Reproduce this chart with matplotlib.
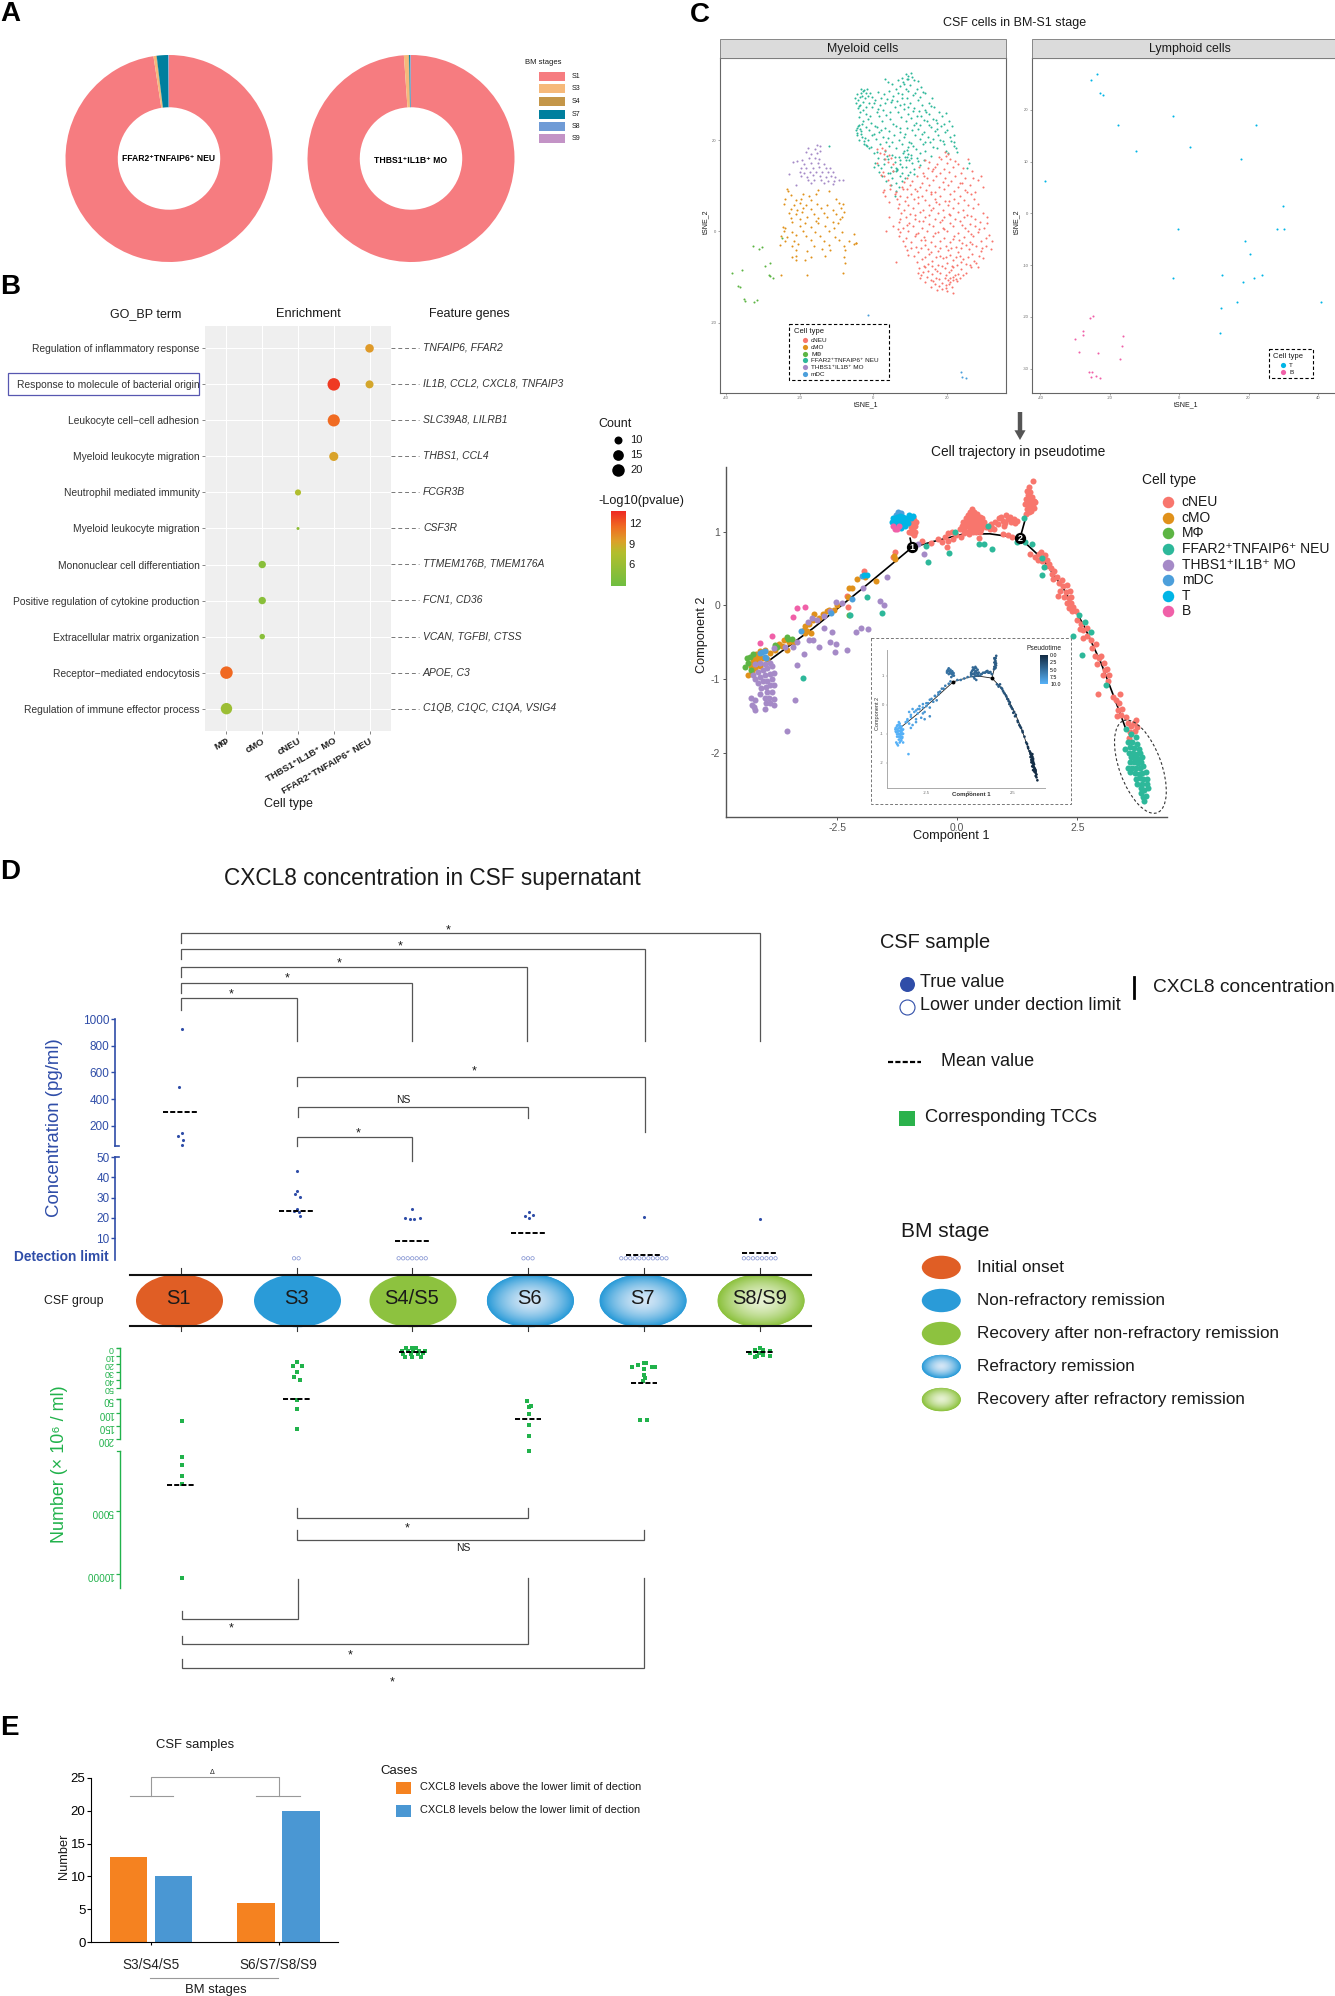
import numpy as np
import matplotlib
matplotlib.use("Agg")
import matplotlib.pyplot as plt
from matplotlib.patches import Ellipse, Rectangle
from matplotlib.colors import LinearSegmentedColormap
from matplotlib.transforms import ScaledTranslation

plt.rcParams['font.family'] = ['Liberation Sans', 'DejaVu Sans']
plt.rcParams['axes.unicode_minus'] = False
W, H = 1335, 1996
fig = plt.figure(figsize=(W/100, H/100), dpi=100)

def add_ax(x0, y0, x1, y1, **kw):
    return fig.add_axes([x0/W, 1-y1/H, (x1-x0)/W, (y1-y0)/H], **kw)

ov = fig.add_axes([0, 0, 1, 1], zorder=6)
ov.set_xlim(0, W); ov.set_ylim(H, 0); ov.axis('off')

def T(x, y, s, size=8, ha='left', va='center', color='#1a1a1a', **kw):
    return ov.text(x, y, s, fontsize=size, ha=ha, va=va, color=color, **kw)

for letter, lx, ly in [('A', 0, 14), ('B', 0, 287), ('C', 690, 15), ('D', 0, 872), ('E', 0, 1728)]:
    T(lx, ly, letter, size=20, weight='bold', color='black')

# ---------- Panel A ----------
stages = ['S1', 'S3', 'S4', 'S7', 'S8', 'S9']
stage_colors = ['#F67C80', '#F6B97A', '#C49648', '#007F9E', '#6F9BD6', '#C393C6']
neu_share = [97.6, 0.4, 0.1, 1.8, 0.05, 0.05]
mo_share = [98.9, 0.7, 0.1, 0.2, 0.05, 0.05]
for share, cx, name, ty in [(neu_share, 169, 'FFAR2⁺TNFAIP6⁺ NEU', 158), (mo_share, 411, 'THBS1⁺IL1B⁺ MO', 160)]:
    ax = add_ax(cx-103.5, 55, cx+103.5, 262)
    ax.pie(share, colors=stage_colors, startangle=90, counterclock=False, radius=1,
           wedgeprops=dict(width=0.505, linewidth=0))
    ax.set_xlim(-1, 1); ax.set_ylim(-1, 1)
    T(cx, ty, name, size=6.2, ha='center', weight='bold', color='black')
T(525, 62, 'BM stages', size=5.5)
for s, c, yy in zip(stages, stage_colors, [76, 88, 101, 114, 126, 138]):
    ov.add_patch(Rectangle((539, yy-4.5), 26, 9, fc=c, ec='none'))
    T(572, yy, s, size=5)

# ---------- Panel B ----------
go_terms = ['Regulation of inflammatory response', 'Response to molecule of bacterial origin',
            'Leukocyte cell−cell adhesion', 'Myeloid leukocyte migration', 'Neutrophil mediated immunity',
            'Myeloid leukocyte migration', 'Mononuclear cell differentiation',
            'Positive regulation of cytokine production', 'Extracellular matrix organization',
            'Receptor−mediated endocytosis', 'Regulation of immune effector process']
genes = ['TNFAIP6, FFAR2', 'IL1B, CCL2, CXCL8, TNFAIP3', 'SLC39A8, LILRB1', 'THBS1, CCL4', 'FCGR3B', 'CSF3R',
         'TTMEM176B, TMEM176A', 'FCN1, CD36', 'VCAN, TGFBI, CTSS', 'APOE, C3', 'C1QB, C1QC, C1QA, VSIG4']
cell_types_b = ['MΦ', 'cMO', 'cNEU', 'THBS1⁺IL1B⁺ MO', 'FFAR2⁺TNFAIP6⁺ NEU']
dot_col = [5, 4, 5, 4, 4, 3, 3, 2, 2, 2, 1, 1]
dot_row = [1, 2, 2, 3, 4, 5, 6, 7, 8, 9, 10, 11]
dot_count = [11, 20, 10, 19, 12, 7, 2, 9, 9, 6, 20, 17]
dot_logp = [9.6, 13.2, 9.0, 11.5, 9.2, 7.5, 5.0, 4.6, 4.6, 4.6, 11.6, 6.0]
go_cmap = LinearSegmentedColormap.from_list('go', [(0, '#70BF41'), (.45, '#B4BE2D'), (.6, '#DDA02A'), (.8, '#F06A22'), (1, '#EE2A24')])
axb = add_ax(205, 326, 391, 731)
axb.set_facecolor('#EFEFEF')
for sp in axb.spines.values():
    sp.set_visible(False)
axb.set_xlim(0.4, 5.6); axb.set_ylim(11.62, 0.38)
axb.grid(color='white', lw=0.8); axb.set_axisbelow(True)
axb.set_xticks(range(1, 6)); axb.set_yticks(range(1, 12))
axb.set_yticklabels(go_terms, fontsize=7.4, color='#333333')
axb.set_xticklabels(cell_types_b, fontsize=6.8, weight='bold', rotation=30, ha='right', rotation_mode='anchor', color='#222222')
for lab, off, dn in zip(axb.get_xticklabels(), [5, 11, 17, 18, 25], [1, 3, 3, 4, 5]):
    lab.set_transform(lab.get_transform() + ScaledTranslation(off/100, -dn/100, fig.dpi_scale_trans))
axb.tick_params(length=2, width=0.5, color='#555555', pad=2)
size_px = np.interp(dot_count, [2, 10, 15, 20], [3, 8, 10.7, 12.5])
axb.scatter(dot_col, dot_row, s=(size_px*.72)**2, c=dot_logp, cmap=go_cmap, vmin=2.78, vmax=13.76, lw=0, zorder=3)
T(146, 314, 'GO_BP term', size=9, ha='center')
T(308, 314, 'Enrichment', size=9.2, ha='center')
T(469, 314, 'Feature genes', size=9, ha='center')
T(288, 804, 'Cell type', size=9, ha='center')
for i, g in enumerate(genes):
    yy = 348 + i*36.07
    ov.plot([391, 419], [yy, yy], color='#777777', lw=0.7, ls=(0, (4, 3)))
    T(423, yy-0.5, g, size=7.5, style='italic', color='#333333')
ov.add_patch(Rectangle((8, 373), 191, 22, fc='none', ec='#5757B0', lw=0.9))
T(598, 424, 'Count', size=9)
for c, yy, d in zip([10, 15, 20], [440, 455, 470], [8, 10.7, 12.5]):
    ov.scatter([618], [yy], s=(d*.72)**2, color='black', lw=0)
    T(630, yy, str(c), size=8)
T(598, 501, '-Log10(pvalue)', size=9.2)
axc = add_ax(611, 511, 626, 586)
axc.imshow(np.linspace(13.76, 2.78, 200)[:, None], cmap=go_cmap, vmin=2.78, vmax=13.76, aspect='auto', extent=[0, 1, 2.78, 13.76])
axc.set_xticks([]); axc.yaxis.tick_right()
axc.set_yticks([6, 9, 12]); axc.tick_params(axis='y', length=0, labelsize=8, pad=2, labelcolor='#1a1a1a')
for sp in axc.spines.values():
    sp.set_visible(False)

# ---------- Panel C: tSNE ----------
PAL = {'cNEU': '#F8766D', 'cMO': '#E0911B', 'Mac': '#5DB544', 'FFAR2': '#2DB89A', 'THBS1': '#A58AC7',
       'mDC': '#4C9FDB', 'T': '#00B5E6', 'B': '#F060A8'}

tsne_ffar2 = [(8.8,34.6),(9.6,34.1),(10.5,33.9),(3.2,33.3),(4.1,32.8),(9.2,33.4),(11.2,33.2),(12.3,33.0),(5.2,32.3),(7.3,31.8),(8.5,32.4),(10.1,32.1),(12.9,31.7),
 (-3.4,31.3),(-2.6,31.0),(-1.8,31.2),(4.4,30.7),(6.1,31.1),(9.4,30.8),(11.8,31.2),(13.6,30.6),(-4.4,30.2),(-3.1,29.7),(-0.9,30.3),(2.9,30.1),(5.4,29.6),(7.9,30.2),(10.7,29.8),(14.1,30.3),
 (-4.9,29.3),(-4.1,28.8),(-2.3,29.2),(0.6,28.7),(3.8,29.1),(6.6,28.6),(9.1,29.3),(12.2,28.9),(15.9,29.2),(-4.7,28.1),(-3.5,27.8),(-1.2,28.2),(1.9,27.7),(4.9,28.3),(7.2,27.6),(10.1,28.2),(13.3,27.7),(15.1,28.1),
 (-4.2,27.1),(-2.8,26.6),(-0.3,27.2),(2.7,26.7),(5.8,27.3),(8.4,26.8),(11.2,27.1),(14.2,26.6),(16.6,27.2),(-3.7,26.1),(-2.1,25.7),(0.9,26.2),(3.6,25.6),(6.7,26.1),(9.6,25.7),(12.4,26.3),(15.3,25.8),(17.8,26.1),(19.7,25.9),
 (-3.9,25.1),(-1.4,24.7),(1.6,25.2),(4.5,24.6),(7.5,25.1),(10.4,24.8),(13.1,25.3),(16.2,24.7),(18.6,25.2),(-2.9,24.1),(-0.7,23.7),(2.4,24.2),(5.3,23.6),(8.8,24.1),(11.7,23.8),(14.7,24.3),(17.3,23.7),(20.5,24.2),
 (-4.1,23.1),(-1.9,22.8),(0.4,23.2),(3.2,22.7),(6.1,23.1),(9.3,22.6),(12.6,23.3),(15.6,22.8),(18.4,23.1),(21.4,23.0),(-4.6,22.2),(-3.4,21.9),(-1.1,22.3),(1.7,21.7),(4.2,22.1),(7.2,21.8),(10.6,22.2),(13.9,21.7),(16.8,22.1),(19.6,21.8),
 (-4.4,21.1),(-3,20.7),(-0.2,21.2),(2.6,20.8),(5.6,21.1),(8.3,20.6),(11.5,21.2),(14.8,20.7),(17.7,21.1),(20.8,20.8),(22,21.1),(-3.9,20.1),(-2.4,19.8),(0.8,20.2),(3.5,19.7),(6.9,20.1),(9.8,19.7),(12.7,20.2),(15.4,19.6),(18.3,20.1),(21.2,19.8),
 (-2.5,19.1),(-1.6,18.8),(1.9,19.1),(4.3,18.7),(7.8,19.2),(10.9,18.8),(13.6,19.1),(16.3,18.6),(19.3,19.1),(22,18.8),(-1.1,18.2),(3.1,17.7),(6.3,18.2),(9.1,17.8),(11.6,18.1),(14.2,17.6),(17.4,18.2),(19.8,17.7),(22.4,18.2),
 (0.3,17.1),(5.2,16.8),(8.1,17.2),(10.3,16.7),(12.8,17.1),(15.7,16.6),(20.4,17.1),(22.7,17.3),(1.2,16.1),(4.1,15.8),(6.9,16.2),(9.7,15.7),(11.9,16.1),(13.8,15.7),(0.5,15.1),(2.9,14.7),(5.8,15.2),(7.4,14.8),(10.6,15.1),(12.6,14.6),(26,15.1),
 (0.2,14.2),(2.1,13.8),(4.8,14.1),(6.5,13.7),(8.9,14.2),(11.2,13.7),(25.6,14.0),(1.6,13.1),(3.9,12.7),(6.1,13.2),(7.7,12.8),(10.1,13.1),(2.3,12.1),(5.2,11.8),(7.2,12.2),(8.6,11.7),(3.5,11.1),(6.3,10.7),(7.8,11.1),(4.8,10.1),(7.1,9.8),(6.2,8.9),(5.9,7.8),(-11.9,18.7)]
tsne_ffar2_more = [(-3.2,30.4),(-2.9,30.8),(-3.6,29.4),(-2.1,30.3),(-1.4,29.6),(-2.7,28.4),(-0.3,29.4),(1.3,30.6),(2.2,29.3),(-3.9,27.4),(-1.9,27.3),(0.2,28.1),(1.2,26.9),(3.1,28.2),(4.6,26.1),(-0.9,25.4),(-4.3,21.6),(-3.6,22.5),(-3.8,23.4),(-4.5,22.7),(-3.1,23.5),(-3.3,21.3),(-2.2,20.4),(-1.5,20.1),(-0.6,18.4),(-1.9,18.9),(0.3,21.4),(1.1,22.9),(2.2,22.2),(6.7,33.2),(7.8,33.6),(9.5,33.3),(10.3,34.8),(8.2,32.7),(7.7,29.3),(8.9,31.1),(11.3,30.4),(12.7,29.5),(6.8,30.4),(5.1,28.7),(8.4,27.9),(9.4,27.3),(10.8,26.4),(11.8,25.2),(13.7,24.4),(14.3,26.1),(15.8,27.4),(17.1,24.4),(12.1,22.4),(11.2,23.4),(13.3,21.4),(15.3,23.4),(17.4,22.4),(19.2,23.6),(20.1,22.3),(16.3,20.3),(18.9,19.9),(14.2,19.6),(21.9,19.5),(4.1,20.5),(5.1,19.6),(7.3,22.6),(8.7,21.4),(9.4,18.4),(8.3,17.6),(10.4,19.4),(9.2,16.4),(9.6,16.9),(8.9,15.7),(8.7,16.2),(10.3,16.1),(6.1,13.8),(5.5,13.3),(6.6,13.4),(7.3,15.6),(4.7,12.7),(2.8,15.9),(1.4,14.6),(3.7,16.6),(7.7,14.2),(11,12.6),(12.1,15.4),(9.4,12.4),(6,16.2),(1,17.3)]
tsne_cneu = [(1.0,18.1),(3.2,17.9),(19.5,17.4),(20.4,16.9),(3.0,17.0),(4.4,16.7),(19.7,16.5),(4.9,16.1),(14.1,15.7),(18,16.2),(21,15.8),(25.9,15.9),(1,15.1),(5.5,14.7),(15.3,15.2),(17.4,14.8),(20.1,15.1),(23,14.7),
 (12.4,14.2),(14.8,13.8),(16.9,14.1),(19.2,13.7),(21.6,14.2),(24.3,13.8),(2.6,13.1),(13.5,12.7),(15.9,13.2),(18.1,12.8),(20.7,13.1),(23.8,12.7),(26.9,13.2),(3,12.1),(9.2,11.8),(11.8,12.2),(14.6,11.7),(17.1,12.1),(19.6,11.8),(22.2,12.2),(25.1,11.7),(29.3,12.1),
 (3.9,11.2),(8.4,10.8),(10.6,11.1),(13.2,10.7),(16.2,11.2),(18.9,10.8),(21.3,11.1),(24.2,10.7),(28.4,11.2),(4.6,10.1),(7.9,9.8),(10.1,10.2),(12.7,9.7),(15.3,10.1),(17.8,9.8),(20.4,10.2),(23.1,9.7),(26.3,10.1),(29.8,9.8),
 (2.8,9.1),(6.3,8.7),(9.3,9.2),(11.8,8.8),(14.4,9.1),(16.9,8.7),(19.2,9.2),(22.1,8.8),(24.9,9.1),(27.8,8.7),(5.8,8.1),(7.4,7.8),(10.4,8.2),(13.2,7.7),(15.8,8.1),(18.3,7.8),(20.8,8.2),(23.6,7.7),(26.5,8.1),
 (6.5,7.1),(8.6,6.7),(11.2,7.2),(14.1,6.8),(16.7,7.1),(19.4,6.7),(21.9,7.2),(24.7,6.8),(27.5,7.1),(7.1,6.1),(9.6,5.8),(12.3,6.2),(15.1,5.7),(17.8,6.1),(20.3,5.8),(23.2,6.2),(25.8,5.7),(28.6,6.1),
 (6.8,5.1),(8.3,4.7),(10.9,5.2),(13.6,4.8),(16.2,5.1),(19,4.7),(21.7,5.2),(24.3,4.8),(27.1,5.1),(7.5,4.1),(9.9,3.8),(12.6,4.2),(15.3,3.7),(17.7,4.1),(20.5,3.8),(23.1,4.2),(25.6,3.7),(29.8,4.1),
 (4.3,3.1),(7.2,2.8),(8.9,3.2),(11.4,2.7),(14,3.1),(16.8,2.8),(19.3,3.2),(22.2,2.7),(24.8,3.1),(27.7,2.8),(30.9,3.1),(6.9,2.1),(9.7,1.8),(12.5,2.2),(15.2,1.7),(18.1,2.1),(20.9,1.8),(23.6,2.2),(26.4,1.7),(29.1,2.1),(31,1.8),
 (5.4,1.1),(8.2,0.8),(10.8,1.2),(13.3,0.7),(16.2,1.1),(19,0.8),(21.8,1.2),(24.9,0.7),(27.6,1.1),(30.2,0.8),(3.5,0.1),(7.3,-0.2),(9.5,0.2),(12.1,-0.3),(14.7,0.1),(17.5,-0.2),(20.2,0.2),(23.1,-0.3),(25.8,0.1),(28.6,-0.2),
 (7.1,-1.1),(8.9,-1.4),(11.4,-0.9),(13.9,-1.3),(16.4,-1.1),(19.3,-1.4),(22,-0.9),(24.7,-1.3),(27.2,-1.1),(30.6,-1.4),(8.1,-2.1),(10.3,-2.4),(13,-1.9),(15.6,-2.3),(18.2,-2.1),(21,-2.4),(23.4,-1.9),(26.3,-2.3),(29.3,-2.1),(32.2,-2.2),
 (8.6,-3.1),(11.6,-3.4),(14.2,-2.9),(16.9,-3.3),(19.7,-3.1),(22.5,-3.4),(25.2,-2.9),(28.1,-3.3),(30.8,-3.1),(9.3,-4.1),(12.1,-4.4),(14.8,-3.9),(17.6,-4.3),(20.3,-4.1),(23.2,-4.4),(26.1,-3.9),(29.4,-4.3),(32,-3.9),
 (9.6,-5.1),(11.1,-5.4),(15.3,-4.9),(18.3,-5.3),(21,-5.1),(23.7,-5.4),(27,-4.9),(28.8,-5.3),(13.2,-6.1),(16.1,-6.4),(18.9,-5.9),(21.6,-6.3),(24.4,-6.1),(27.3,-6.4),(30,-5.9),(15,-7.1),(17.5,-7.4),(20.2,-6.9),(22.8,-7.3),(25.2,-7.1),(28.1,-6.9),
 (12.4,-8.1),(14.2,-7.9),(16.8,-8.3),(19.4,-8.1),(21.7,-7.9),(24,-8.3),(26.7,-7.7),(12.1,-9.1),(13.6,-8.9),(15.9,-9.3),(18.2,-9.1),(20.6,-8.9),(23,-9.3),(25.3,-9.1),(12.6,-10.1),(14.7,-9.9),(17.1,-10.3),(19.5,-10.1),(21.8,-9.9),(23.6,-10.3),
 (14,-11.1),(16.3,-10.9),(18.7,-11.3),(21,-11.1),(22.9,-10.9),(15.8,-12.1),(17.9,-11.9),(19.9,-12.3),(21.4,-12.1),(17.4,-12.9),(20.1,-13.1),(21.8,-13.5),(6.2,-6.7)]
tsne_cneu_more = [(1.9,17.1),(2.3,18.2),(4.1,15.3),(3.2,15.8),(5.3,13.2),(2,12.3),(4.7,9.2),(3.3,7.8),(4.2,6.4),(2.6,8.6),(16.2,13.6),(18.5,15.9),(22.3,15.4),(27.2,11.6),(11.3,9.4),(13.8,12.2),(15.8,8.6),(12.2,7.6),(9.2,7.6),(8,9.4),(17.2,6.4),(20.7,6.6),(23.5,10.6),(25.5,8.6),(11.3,3.6),(13.5,2.3),(15.7,4.6),(18.6,2.5),(21,3.6),(24.2,1.4),(26.5,3.3),(9.2,1.4),(6.7,0.5),(11.6,-0.6),(14.2,-1.8),(16.8,-0.4),(19.2,0.5),(21.7,-1.7),(24.2,-2.5),(28.7,0.6),(26.7,-0.5),(31.5,-0.7),(10.2,-3.6),(13,-3.7),(15.6,-4.6),(18.3,-3.6),(21.2,-3.7),(24,-3.6),(26.8,-2.7),(29.7,-3.6),(11.8,-6.7),(14.2,-5.6),(17,-5.6),(19.9,-5.5),(22.4,-5.7),(25.8,-5.5),(28.4,-7.7),(13.7,-7.5),(16,-7.6),(18.8,-7.6),(21.4,-7.6),(23.8,-6.8),(26.4,-7.3),(13,-9.6),(14.9,-8.6),(17.4,-8.7),(19.7,-9.5),(21.2,-8.5),(22.3,-9.6),(24.4,-9.5),(15.6,-10.6),(17.9,-10.5),(20.3,-10.6),(20.9,-10.2),(21.6,-10.6),(22.4,-10.4),(19.7,-11.7),(16.8,-11.6),(20.7,-11.6),(18.6,-12.7)]
tsne_cmo = [(-23.5,9.2),(-23.3,8.9),(-15,9.1),(-12,8.8),(-22.5,8),(-19,8.2),(-17.5,7.8),(-15.5,8.1),(-24,7.1),(-21,6.8),(-19.7,7.2),(-17,6.9),(-10,7.1),(-24.2,6.1),(-21.5,5.8),(-20,6.2),(-18.2,5.9),(-15.4,6.1),(-12.5,5.8),(-9.4,6.2),(-8.3,6),
 (-22.5,5),(-20.8,4.8),(-19.2,5.2),(-17,4.9),(-14.2,5.1),(-11,4.8),(-8.8,5.1),(-23,4),(-21,3.8),(-19.5,4.2),(-16,3.9),(-13.5,4.1),(-10,3.8),(-8,4.2),(-22.4,3),(-19.9,2.8),(-18,3.2),(-15,2.9),(-12.5,3.1),(-9,2.8),(-8.5,3.2),
 (-22,2),(-18.5,1.8),(-15.5,2.2),(-15,1.9),(-11,2.1),(-9.5,1.8),(-24.5,1),(-23.9,0.8),(-20,1.2),(-17,0.9),(-13.2,1.1),(-10.8,0.8),(-24.4,0),(-22,-0.2),(-19,0.2),(-15.8,-0.1),(-11.9,0.1),(-8.4,-0.2),
 (-25,-1),(-23.5,-1.2),(-21,-0.8),(-18.3,-1.1),(-14.5,-0.9),(-10.5,-1.2),(-5.3,-0.5),(-24,-2),(-21.5,-2.2),(-17,-1.8),(-13.4,-2.1),(-9.2,-1.9),(-6.5,-2.2),(-4.8,-2.5),(-25.5,-2.9),(-22,-3.1),(-20.5,-2.8),(-16,-3.1),(-12,-2.9),(-8,-3.2),(-5.2,-2.8),(-4.6,-2.6),
 (-21,-4),(-18,-4.2),(-13.9,-3.9),(-11.8,-4.1),(-7.8,-4),(-22,-5.5),(-21,-5.3),(-16.8,-5.6),(-13,-5.4),(-8,-5.5),(-21,-6.2),(-18.5,-6.2),(-7.6,-7),(-8.2,-9),(-18.1,-9.6),(-25,-9.5)]
tsne_thbs1 = [(-15.2,18.9),(-14.6,18.8),(-17.7,18.2),(-15.9,18),(-14.5,17.7),(-18.3,17.4),(-16.8,17),(-15.4,17.2),(-20.8,15.5),(-19.3,15.7),(-17.5,16),(-15.8,16.1),(-14.7,15.8),(-21.9,15.2),(-18.8,14.8),(-16.9,15),
 (-15.1,14.9),(-13.3,14.8),(-19.6,14),(-18.2,13.8),(-16.4,14),(-14.8,14.1),(-12.8,14),(-11.7,13.9),(-23,12.5),(-19.8,13),(-18.9,12.9),(-17.2,13.1),(-15.6,13.1),(-13.9,13),(-12.3,13.1),(-10.9,13),(-19.6,12.1),(-18.1,11.9),(-16.5,12.3),(-14.5,12.2),(-12.9,12),(-11.4,12.2),(-10.3,12),
 (-17.7,11.2),(-16,11.3),(-14.2,11.2),(-12.3,11.1),(-10.6,11),(-9.4,11.3),(-8.3,11.2),(-17,10.6),(-13.3,10.6),(-10.9,10.4),(-21,10.2)]
tsne_mac = [(-32.8,-3.1),(-31.1,-3.8),(-30.3,-3.5),(-28,-6.9),(-29.5,-7.5),(-35.8,-8.5),(-38.3,-9.1),(-28.3,-9.5),(-28,-9.8),(-27.2,-10.1),(-36.7,-12),(-36.3,-12.2),(-35.3,-14.7),(-35,-15.2),(-32.5,-15.4),(-31.7,-15.1),(-24.7,-1.5)]
tsne_mdc = [(-1.5,-18.4),(23.9,-30.8),(24.1,-31.9),(25.2,-32.1)]
lym_t = [(-23.8,27.0),(-25.4,25.7),(-22.8,23.3),(-22,22.8),(-17.7,17.1),(-1.7,18.8),(22.2,17.1),(3,12.8),(-12.5,12.1),(17.7,10.5),(-38.7,6.2),(30,1.5),(-0.2,-3.1),(28.2,-3.1),(30.3,-3.1),(19,-5.3),(20.4,-7.8),(-1.9,-12.4),(12.4,-12),(18.4,-13.2),(21.6,-12.5),(24,-12),(12,-18.2),(16.6,-17.2),(41,-17.2),(11.7,-23.1)]
lym_b = [(-24.8,-19.9),(-25.8,-20.3),(-27.8,-22.7),(-27.8,-23.5),(-30,-24.3),(-16.1,-23.7),(-16.6,-25.7),(-28.8,-26.8),(-23.3,-27),(-17.1,-28.1),(-26.1,-30.6),(-25.2,-30.7),(-25.4,-31.6),(-23.9,-31.5),(-22.7,-31.8)]

def tsne_axes(x0, x1, xlim, ylim, xt, yt, title, xlab_x, ylab_x):
    a = add_ax(x0, 58, x1, 393)
    a.set_xlim(*xlim); a.set_ylim(*ylim)
    a.set_xticks(xt); a.set_yticks(yt)
    a.tick_params(labelsize=3, length=1.5, width=0.4, pad=1, colors='#666666')
    for sp in a.spines.values():
        sp.set_color('#666666'); sp.set_linewidth(0.8)
    ov.add_patch(Rectangle((x0, 39), x1-x0, 19, fc='#DBDBDB', ec='#777777', lw=0.6))
    T((x0+x1)/2 if x1 < 1335 else 1190, 49, title, size=8.9, ha='center')
    T(xlab_x, 405, 'tSNE_1', size=5, ha='center')
    T(ylab_x, 222, 'tSNE_2', size=5, ha='center', rotation=90)
    return a

axm = tsne_axes(720, 1005.5, (-41.7, 36), (-35.4, 38), [-40, -20, 0, 20], [-20, 0, 20], 'Myeloid cells', 866, 706)
for pts, k in [(tsne_ffar2, 'FFAR2'), (tsne_ffar2_more, 'FFAR2'), (tsne_cneu, 'cNEU'), (tsne_cneu_more, 'cNEU'), (tsne_cmo, 'cMO'), (tsne_thbs1, 'THBS1'), (tsne_mac, 'Mac'), (tsne_mdc, 'mDC')]:
    p = np.array(pts)
    axm.scatter(p[:, 0], p[:, 1], s=2.2, color=PAL[k], lw=0)
axl = tsne_axes(1032, 1337, (-42.4, 45.5), (-34.7, 30), [-40, -20, 0, 20, 40], [-30, -20, -10, 0, 10, 20], 'Lymphoid cells', 1186, 1017)
for pts, k in [(lym_t, 'T'), (lym_b, 'B')]:
    p = np.array(pts)
    axl.scatter(p[:, 0], p[:, 1], s=2.2, color=PAL[k], lw=0)
T(1015, 23, 'CSF cells in BM-S1 stage', size=9, ha='center')
ov.add_patch(Rectangle((789, 324), 100, 56, fc='white', ec='black', lw=0.8, ls=(0, (3, 2))))
T(794, 331, 'Cell type', size=5.5)
for k, lab, yy in zip(['cNEU', 'cMO', 'Mac', 'FFAR2', 'THBS1', 'mDC'],
                      ['cNEU', 'cMO', 'MΦ', 'FFAR2⁺TNFAIP6⁺ NEU', 'THBS1⁺IL1B⁺ MO', 'mDC'], [340, 347, 354, 360, 367, 374]):
    ov.scatter([805], [yy], s=14, color=PAL[k], lw=0)
    T(811, yy, lab, size=4.6)
ov.add_patch(Rectangle((1269, 349), 44, 29, fc='white', ec='black', lw=0.8, ls=(0, (3, 2))))
T(1273, 356, 'Cell type', size=5.5)
for k, yy in [('T', 365), ('B', 372)]:
    ov.scatter([1283], [yy], s=14, color=PAL[k], lw=0)
    T(1289, yy, k, size=4.6)
ov.annotate('', xy=(1020, 440), xytext=(1020, 412), arrowprops=dict(width=3.2, headwidth=8, headlength=7, fc='#555555', ec='none'))

# ---------- Panel C: trajectory ----------
traj_line_c1 = [-3.90, -3.0, -1.97, -0.94, -0.43, 0.13, 0.68, 1.31, 1.80, 2.23, 2.65, 3.0, 3.34, 3.51]
traj_line_c2 = [-0.74, -0.31, 0.23, 0.786, 0.877, 0.967, 0.97, 0.913, 0.615, 0.21, -0.29, -0.786, -1.37, -1.67]
branch_c1 = [1.31, 1.47]; branch_c2 = [0.913, 1.29]
branch2_c1 = [-0.94, -0.98]; branch2_c2 = [0.786, 0.91]
nodes_c1 = [-0.94, 1.31]; nodes_c2 = [0.786, 0.913]

traj_cneu = [(1.58,1.68),(1.5,1.6),(1.45,1.55),(1.52,1.54),(1.48,1.5),(1.56,1.47),(1.6,1.42),(1.44,1.44),(1.5,1.42),(1.57,1.38),(1.63,1.4),(1.47,1.36),(1.53,1.34),(1.59,1.32),(1.46,1.3),(1.5,1.26),(1.43,1.24),(1.55,1.37),(1.42,1.37),(1.52,1.47),(1.46,1.4),(1.54,1.28),
 (0.3,1.31),(0.27,1.26),(0.35,1.27),(0.42,1.24),(0.22,1.22),(0.3,1.22),(0.38,1.21),(0.47,1.2),(0.52,1.18),(0.18,1.18),(0.26,1.17),(0.34,1.16),(0.42,1.16),(0.5,1.14),(0.56,1.13),(0.13,1.13),(0.21,1.12),(0.29,1.11),(0.37,1.11),(0.45,1.1),(0.53,1.09),(0.1,1.08),(0.18,1.07),(0.26,1.06),(0.34,1.06),(0.42,1.05),(0.5,1.04),(0.06,1.03),(0.15,1.02),(0.24,1.01),(0.32,1.0),(0.4,1.0),(0.48,1.0),
 (0.6,1.06),(0.68,1.04),(0.73,1.05),(0.78,1.13),(0.85,1.1),(0.92,1.2),(0.95,1.15),(0.88,1.18),(1.0,1.12),(1.05,1.17),(1.1,1.2),(1.13,1.13),(1.18,1.17),(1.2,1.12),(1.25,1.14),(1.02,1.22),(0.98,1.08),(0.76,1.03),(0.7,1.1),
 (-0.98,1.14),(-0.94,1.1),(-0.9,1.16),(-0.97,1.06),(-0.92,1.02),(-0.87,1.08),(-0.95,0.98),(-0.9,0.96),(-0.87,1.0),(-0.93,1.2),(-0.85,1.13),(-1,1.0),
 (-0.74,.87),(-0.55,.85),(-.4,.9),(-.32,.86),(-.25,.93),(-.2,.98),(-.1,.99),(-.02,.95),(-.2,.87),(-.08,.9),(.15,.98),(-.22,.79),(.07,.93),(.45,.92),(.25,.97),(.95,.97),(1.05,.95),(1.15,.93),
 (1.52,.7),(1.62,.66),(1.7,.7),(1.75,.72),(1.68,.62),(1.82,.68),(1.77,.6),(1.87,.62),(1.92,.56),(1.85,.54),(1.95,.5),(2.02,.46),(1.98,.42),(2.07,.38),(2.0,.36),(2.12,.3),(2.18,.34),(2.2,.26),(2.28,.28),(2.15,.2),(2.27,.18),(2.35,.2),(2.22,.12),(2.32,.1),(2.37,.12),(2.1,.13),(2.28,.03),(2.38,.03),(2.33,-.03),(2.42,-.02),(2.4,-.08),(2.48,-.07),(2.5,-.2),(2.57,-.25),(2.55,-.32),(2.62,-.34),(2.7,-.3),(2.7,-.42),(2.78,-.47),(2.63,-.44),(2.8,-.58),(2.9,-.52),(2.88,-.68),(2.95,-.72),(3.0,-.68),(3.05,-.78),(2.92,-.8),(3.08,-.88),(3.12,-.86),(3.03,-.95),(3.17,-.95),(3.14,-1.03),
 (2.94,-1.2),(3.4,-1.2),(3.38,-1.32),(3.3,-1.28),(3.25,-1.24),(3.43,-1.4),(3.35,-1.42),(3.32,-1.5),(3.42,-1.48),(3.52,-1.52),(3.55,-1.6),(3.62,-1.63),(3.68,-1.6),(3.6,-1.72),(3.7,-1.7),(3.75,-1.65),(3.58,-1.8),(3.72,-1.55),
 (-1.94,.47),(-2.29,.13),(-2.28,-.02),(-1.3,.72),(-1.33,.66)]
traj_cmo = [(-1.32,.67),(-1.3,.63),(-1.92,.38),(-2.08,.36),(-2.2,.24),(-2.25,.23),(-1.7,.33),(-2.28,.12),(-2.5,.0),(-2.56,-.06),(-2.67,-.06),(-2.72,-.08),(-2.79,-.12),(-2.88,-.17),(-2.98,-.12),(-3.0,-.2),(-3.08,-.25),(-3.17,-.28),(-3.2,-.33),(-3.12,-.35),(-3.05,-.38),(-3.17,-.38),(-3.4,-.5),(-3.5,-.5),(-3.6,-.47),(-3.65,-.55),(-3.72,-.52),(-3.8,-.6),(-3.55,-.6),(-3.9,-.65),(-4.0,-.6),(-4.1,-.62),(-4.2,-.7),(-4.25,-.75),(-4.15,-.75),(-4.05,-.72),(-4.3,-.82),(-4.2,-.85),(-4.1,-.82),(-4.35,-.95),(-4.28,-.9),(-3.95,-.73),(-4.18,-.66),(-4.12,-.7)]
traj_mac = [(-4.38,-.72),(-4.32,-.7),(-4.26,-.66),(-4.42,-.84),(-4.36,-.78),(-3.8,-.54),(-3.55,-.43),(-3.52,-.45),(-3.75,-.57),(-4.3,-.88),(-3.45,-.45),(-2.25,-.13)]
traj_ffar2 = [(3.52,-1.68),(3.62,-1.75),(3.72,-1.78),(3.55,-1.85),(3.65,-1.85),(3.75,-1.88),(3.6,-1.92),(3.68,-1.93),(3.78,-1.95),(3.5,-1.95),(3.58,-2.0),(3.66,-2.0),(3.74,-2.02),(3.8,-2.0),(3.62,-2.06),(3.7,-2.07),(3.78,-2.08),(3.84,-2.06),(3.6,-2.12),(3.68,-2.13),(3.76,-2.14),(3.82,-2.13),(3.55,-2.2),(3.65,-2.2),(3.72,-2.2),(3.8,-2.2),(3.87,-2.18),(3.6,-2.26),(3.7,-2.27),(3.78,-2.28),(3.85,-2.27),(3.93,-2.26),(3.72,-2.35),(3.8,-2.34),(3.88,-2.35),(3.96,-2.35),(3.75,-2.42),(3.85,-2.42),(3.95,-2.42),(3.82,-2.48),(3.9,-2.5),(3.97,-2.48),(3.82,-2.55),(3.93,-2.58),(3.87,-2.6),(3.9,-2.65),
 (-.64,.8),(-.6,.59),(-.18,.71),(-.04,1),(.45,.83),(.56,.83),(.73,.76),(.64,1.07),(1.39,1.19),(1.42,.86),(1.24,.86),(1.56,.83),(1.76,.64),(1.8,.52),(1.76,.41),(2.53,-.13),(2.67,-.22),(2.78,-.36),(2.41,-.42),(2.61,-.67),(3.1,-1.08),(-3.22,-.99),(-1.57,-.1),(-1.88,.12),(-2.23,-.13)]
traj_thbs1 = [(-4.25,-.95),(-4.15,-.9),(-4.05,-.88),(-3.95,-.85),(-3.85,-.82),(-4.2,-1.0),(-4.1,-.97),(-4.0,-.95),(-3.9,-.93),(-3.82,-.92),(-4.2,-.8),(-4.1,-.78),(-4.0,-.8),(-3.9,-.78),(-4.15,-1.05),(-4.05,-1.03),(-3.95,-1.02),(-3.85,-1.0),(-4.08,-1.12),(-3.98,-1.1),(-3.9,-1.08),(-3.82,-1.08),(-4.1,-1.2),(-3.97,-1.18),(-3.86,-1.17),(-4.0,-1.25),(-3.92,-1.25),(-3.82,-1.27),(-3.9,-1.32),(-4.3,-1.25),(-4.2,-1.28),(-4.28,-1.35),(-4.2,-1.42),(-4.23,-1.38),(-4.0,-1.4),(-3.82,-1.35),(-3.98,-1.33),
 (-2.61,-.36),(-3,-.47),(-2.65,-.49),(-2.53,-.52),(-2.55,-.63),(-2.3,-.6),(-2.87,-.56),(-3.18,-.66),(-3.42,-.56),(-3.34,-.81),(-3.38,-1.28),(-3.54,-1.7),(-2.11,-.36),(-2,-.31),(-1.85,-.32),(-1.61,.06),(-1.52,0),(-1.97,.23),(-1.46,.39),(-2.53,.05),(-2.4,.03),(-2.78,-.15),(-2.78,-.31),(-3.1,-.22),(-3.08,-.47),(-3.34,-.49),(-3.58,-.56),(-3.81,-.58),(-.81,.83),(-.7,.7),(-2.65,-.08),(-2.92,-.2),(-3.02,-.17)]
traj_mdc = [(-4.06,-.63),(-4.0,-.62),(-4.1,-.65),(-3.98,-.72),(-2.62,-.1),(-2.2,.08),(-1.98,.4),(-3.25,-.35),(-4.0,-.7),(-1.24,1.27),(-1.22,1.24),(-1.17,1.25),(-1.27,1.23)]
traj_t = [(-1.36,1.13),(-1.33,1.18),(-1.3,1.09),(-1.27,1.16),(-1.25,1.2),(-1.22,1.12),(-1.18,1.17),(-1.15,1.09),(-1.13,1.2),(-1.09,1.14),(-1.05,1.18),(-1.02,1.12),(-0.97,1.19),(-0.92,1.21),(-1.0,1.23),(-1.08,1.08),(-1.18,1.05),(-1.26,1.06),(-1.12,1.14),(-1.88,.41),(-1.95,.41),(-1.2,1.21)]
traj_b = [(-3.34,-.04),(-3.17,-.02),(-3.42,-.16),(-3.85,-.42),(-4.11,-.51),(-1.34,1.08),(-1.25,1.03),(-1.22,1.08),(-1.3,1.03)]

axt = add_ax(726.2, 466.7, 1167, 816.7)
axt.set_xlim(-4.81, 4.37); axt.set_ylim(-2.865, 1.88)
for n in ['top', 'right']:
    axt.spines[n].set_visible(False)
for n in ['left', 'bottom']:
    axt.spines[n].set_color('#555555'); axt.spines[n].set_linewidth(1)
axt.set_xticks([-2.5, 0, 2.5]); axt.set_xticklabels(['-2.5', '0.0', '2.5'])
axt.set_yticks([-2, -1, 0, 1])
axt.tick_params(labelsize=7.5, length=2.5, width=0.7, color='#555555', labelcolor='#555555', pad=2)
axt.plot(traj_line_c1, traj_line_c2, color='black', lw=1.2, zorder=1)
axt.plot(branch_c1, branch_c2, color='black', lw=1.2, zorder=1)
axt.plot(branch2_c1, branch2_c2, color='black', lw=1.2, zorder=1)
for pts, k in [(traj_cneu, 'cNEU'), (traj_cmo, 'cMO'), (traj_mac, 'Mac'), (traj_ffar2, 'FFAR2'), (traj_thbs1, 'THBS1'), (traj_mdc, 'mDC'), (traj_t, 'T'), (traj_b, 'B')]:
    p = np.array(pts)
    axt.scatter(p[:, 0], p[:, 1], s=19, color=PAL[k], lw=0, zorder=2, clip_on=False)
axt.scatter(nodes_c1, nodes_c2, s=66, color='black', lw=0, zorder=3)
for nx, ny, nt in zip(nodes_c1, nodes_c2, ['1', '2']):
    axt.text(nx, ny, nt, color='white', fontsize=6.5, weight='bold', ha='center', va='center', zorder=4)
T(1018, 452, 'Cell trajectory in pseudotime', size=9.9, ha='center')
T(702, 635, 'Component 2', size=9.2, ha='center', rotation=90)
T(951.6, 836, 'Component 1', size=9.2, ha='center')
T(1142, 480, 'Cell type', size=10)
for k, lab, yy in zip(['cNEU', 'cMO', 'Mac', 'FFAR2', 'THBS1', 'mDC', 'T', 'B'],
                      ['cNEU', 'cMO', 'MΦ', 'FFAR2⁺TNFAIP6⁺ NEU', 'THBS1⁺IL1B⁺ MO', 'mDC', 'T', 'B'],
                      [502.3, 518, 533.3, 548.7, 564.7, 580.3, 595.7, 611]):
    ov.scatter([1168], [yy], s=(11.5*.72)**2, color=PAL[k], lw=0)
    T(1181.6, yy, lab, size=10)
ov.add_patch(Ellipse((1140.4, 766.7), 42, 98, angle=-20, fc='none', ec='#333333', lw=0.8, ls=(0, (2.5, 2))))
ov.add_patch(Rectangle((871, 638.3), 199.5, 166, fc='white', ec='#777777', lw=0.7, ls=(0, (3, 2)), zorder=1))

inset_c1 = [-4.3,-4.25,-4.2,-4.15,-4.1,-4.05,-4.0,-3.95,-3.9,-3.85,-4.2,-4.15,-4.1,-4.05,-4.0,-3.95,-4.25,-4.1,-4.0,-3.9,-4.15,-4.0,-3.85,-4.05,-3.95,-3.7,-3.6,-3.5,-3.4,-3.3,-3.2,-3.1,-3.0,-2.9,-2.8,-2.7,-2.6,-2.5,-2.4,-2.3,-2.2,-2.1,-2.0,-1.9,-1.8,-1.7,-3.5,-3.3,-3.1,-2.9,-2.7,-2.5,-2.3,-3.4,-3.0,-2.6,-3.54,-1.5,-1.4,-1.2,-1.1,-1.05,-1.0,-0.95,-0.9,-1.25,-1.15,-0.7,-0.5,-0.3,-0.1,0.1,0.1,0.2,0.3,0.4,0.5,0.25,0.35,0.45,0.3,0.4,0.7,0.9,1.0,1.1,1.2,1.3,1.45,1.5,1.55,1.48,1.52,1.5,1.6,1.7,1.85,1.95,2.05,2.15,2.25,2.35,2.4,2.5,2.6,2.7,2.8,2.9,3.0,3.1,3.2,3.3,3.4,3.5,3.55,3.6,3.65,3.7,3.6,3.65,3.7,3.75,3.7,3.75,3.8,3.85,3.8,3.85,3.9,3.85,3.9,3.95]
inset_c2 = [-0.85,-0.95,-0.75,-0.9,-1.0,-0.8,-0.9,-0.75,-1.0,-0.85,-1.1,-0.7,-1.2,-0.65,-1.05,-0.95,-1.3,-0.6,-1.15,-1.1,-1.4,-1.25,-1.0,-0.72,-0.85,-0.6,-0.5,-0.65,-0.35,-0.7,-0.25,-0.5,-0.3,-0.15,-0.45,-0.1,-0.25,-0.05,0.05,-0.1,0.2,0.1,0.3,0.15,0.35,0.45,-0.25,-0.15,-0.6,-0.05,-0.3,0.05,-0.4,-0.8,-0.15,-0.5,-1.7,0.55,0.65,0.72,0.8,0.95,1.05,1.1,1.0,1.15,1.08,0.85,0.85,0.9,0.95,0.98,1.1,1.2,1.05,1.25,1.1,0.95,1.15,1.0,0.9,0.85,1.05,1.1,1.15,1.1,1.12,1.05,1.6,1.45,1.35,1.3,1.5,1.25,0.7,0.65,0.58,0.48,0.38,0.28,0.18,0.08,-0.05,-0.15,-0.25,-0.35,-0.55,-0.7,-0.8,-0.95,-1.1,-1.3,-1.45,-1.6,-1.7,-1.75,-1.8,-1.85,-1.9,-1.95,-2.0,-2.05,-2.1,-2.15,-2.2,-2.25,-2.3,-2.35,-2.4,-2.45,-2.5,-2.6]
inset_pt = [10,10,10,10,10,10,10,10,10,10,10,10,10,10,10,10,10,10,10,10,10,10,10,10,10,9.6,9.5,9.4,9.2,9.0,8.9,8.8,8.6,8.5,8.3,8.2,8.0,7.8,7.6,7.5,7.3,7.1,6.9,6.8,6.6,6.4,9.3,9.0,8.8,8.4,8.2,7.8,7.4,9.2,8.6,8.0,10,6.2,6.0,5.9,5.8,5.0,5.0,5.0,5.0,5.0,5.0,5.6,5.4,5.2,5.1,5.0,4.5,4.5,4.5,4.5,4.5,4.6,4.5,4.5,4.6,4.7,4.4,4.4,4.3,4.3,4.2,4.1,3.4,3.5,3.6,3.6,3.5,3.7,3.8,3.7,3.5,3.3,3.1,3.0,2.8,2.7,2.5,2.4,2.2,2.1,1.9,1.8,1.6,1.4,1.3,1.1,1.0,0.8,0.7,0.6,0.5,0.4,0.3,0.3,0.2,0.2,0.2,0.1,0.1,0.1,0.1,0.0,0.0,0.0,0.0,0.0]
inset_blob = [(-4.28,-.8,10),(-4.2,-.72,10),(-4.12,-.7,10),(-4.2,-.85,10),(-4.12,-.82,10),(-4.04,-.78,10),(-3.96,-.8,10),(-4.28,-.92,10),(-4.2,-.94,10),(-4.12,-.92,10),(-4.04,-.9,10),(-3.96,-.92,10),(-3.9,-.88,10),(-4.2,-1.02,10),(-4.1,-1.02,10),(-4.0,-1.0,10),(-3.92,-1.0,10),(-4.1,-1.1,10),(-4.0,-1.12,10),(-3.9,-1.14,10),(-3.95,-1.22,10),(-4.05,-1.3,10),(-4.2,-1.35,10),(-3.85,-1.3,10),
 (-1.3,1.15,5.2),(-1.25,1.2,5.2),(-1.2,1.25,5.2),(-1.15,1.15,5.2),(-1.1,1.2,5.2),(-1.05,1.12,5.2),(-1.0,1.15,5.2),(-1.2,1.05,5.2),(-1.1,1.08,5.2),(-1.0,1.05,5.2),(-.95,1.0,5.2),(-.92,1.08,5.2),(-1.3,1.1,5.2),
 (.1,1.05,4.5),(.15,1.15,4.5),(.2,1.05,4.5),(.25,1.2,4.5),(.3,1.1,4.5),(.3,1.25,4.5),(.35,1.0,4.5),(.38,1.15,4.5),(.42,1.08,4.5),(.48,1.2,4.5),(.5,1.02,4.5),(.55,1.1,4.5),(.2,1.28,4.5),(.35,1.3,4.5),(.7,1.05,4.4),(.8,1.1,4.4),(.95,1.12,4.4),(1.05,1.16,4.4),(1.15,1.1,4.3),(1.22,1.12,4.3),(.6,1.0,4.4),
 (1.45,1.3,3.6),(1.5,1.38,3.6),(1.55,1.42,3.6),(1.48,1.55,3.6),(1.53,1.6,3.6),(1.56,1.68,3.6),(1.45,1.45,3.6),(1.52,1.28,3.6),(1.43,1.22,3.6),
 (1.7,.62,3.7),(1.78,.7,3.6),(1.9,.55,3.4),(2.0,.42,3.2),(2.12,.32,3),(2.2,.2,2.8),(2.28,.12,2.7),(2.32,.02,2.5),(2.45,-.1,2.4),(2.55,-.28,2.2),(2.65,-.4,2.1),(2.82,-.6,1.8),(2.95,-.75,1.6),(3.08,-.9,1.4),(3.35,-1.35,.9),(3.42,-1.5,.7),
 (3.55,-1.65,.2),(3.6,-1.72,.2),(3.65,-1.78,.2),(3.55,-1.8,.2),(3.62,-1.88,.2),(3.7,-1.9,.2),(3.6,-1.98,.2),(3.68,-2.02,.2),(3.75,-2.05,.2),(3.65,-2.12,.1),(3.73,-2.15,.1),(3.8,-2.2,.1),(3.7,-2.25,.1),(3.78,-2.3,.1),(3.85,-2.3,.1),(3.72,-1.98,.2),(3.66,-1.7,.2),
 (-3.4,-.42,9.3),(-3.1,-.2,8.8),(-2.7,0.02,8.2),(-2.3,.17,7.5),(-2.0,.3,7),(-1.8,.42,6.7),(-3.6,-.55,9.6),(-1.6,.55,6.3)]
pt_cmap = LinearSegmentedColormap.from_list('pt', ['#132B43', '#56B1F7'])
axi = add_ax(886.6, 650, 1044.6, 788, zorder=8)
axi.patch.set_alpha(0)
axi.set_xlim(-4.81, 4.37); axi.set_ylim(-2.865, 1.88)
for n in ['top', 'right']:
    axi.spines[n].set_visible(False)
for n in ['left', 'bottom']:
    axi.spines[n].set_color('#AAAAAA'); axi.spines[n].set_linewidth(0.7)
axi.set_xticks([-2.5, 0, 2.5]); axi.set_xticklabels(['-2.5', '0.0', '2.5'])
axi.set_yticks([-2, -1, 0, 1])
axi.tick_params(labelsize=3, length=1, width=0.3, pad=1, colors='#666666')
axi.plot(traj_line_c1, traj_line_c2, color='#222222', lw=0.6, zorder=1)
axi.plot(branch_c1, branch_c2, color='#222222', lw=0.6, zorder=1)
blob = np.array(inset_blob)
axi.scatter(np.r_[inset_c1, blob[:, 0]], np.r_[inset_c2, blob[:, 1]], c=np.r_[inset_pt, blob[:, 2]], cmap=pt_cmap, vmin=0, vmax=10, s=3.6, lw=0, zorder=2)
axi.scatter(nodes_c1, nodes_c2, s=8, color='black', lw=0, zorder=3)
fig.text(971/W, 1-795/H, 'Component 1', fontsize=4.3, ha='center', va='center', weight='bold', color='#333333', zorder=9)
fig.text(877.6/W, 1-713/H, 'Component 2', fontsize=4, ha='center', va='center', rotation=90, color='#333333', zorder=9)
fig.text(1043.8/W, 1-648/H, 'Pseudotime', fontsize=4.8, ha='center', va='center', color='#222222', zorder=9)
axp = add_ax(1040, 655, 1048, 684, zorder=8)
axp.imshow(np.linspace(0, 10, 100)[:, None], cmap=pt_cmap, vmin=0, vmax=10, aspect='auto', extent=[0, 1, 10, 0])
axp.set_xticks([]); axp.yaxis.tick_right()
axp.set_yticks([0, 2.5, 5, 7.5, 10]); axp.set_yticklabels(['0.0', '2.5', '5.0', '7.5', '10.0'])
axp.tick_params(axis='y', length=0, labelsize=3.8, pad=1.5)
for sp in axp.spines.values():
    sp.set_visible(False)

# ---------- Panel D ----------
groups = ['S1', 'S3', 'S4/S5', 'S6', 'S7', 'S8/S9']
cat_px = [180.5, 296.5, 412.4, 527.8, 644.2, 759.7]
BLUE = '#2F4DA8'; GREEN = '#21B24B'
conc_high_x = [1.01, 0.99, 1.01, 0.98, 1.02, 1.01]
conc_high_y = [923, 490, 143, 123, 93, 53]
conc_low_x = [2.01, 2.01, 1.99, 2.03, 2.01, 1.98, 2.02, 2.03, 3.0, 2.94, 2.98, 3.02, 3.07, 4.01, 4.04, 3.97, 4.01, 5.0, 6.0]
conc_low_y = [42.9, 33.3, 31.8, 30.5, 24.4, 23.1, 22.8, 21.1, 24.4, 19.9, 19.6, 19.6, 19.8, 23.0, 21.2, 20.9, 19.8, 20.2, 19.6]
below_limit_n = [0, 2, 7, 3, 11, 8]
conc_means_hi = [303]
conc_means_lo = [23.2, 8.7, 12.4, 1.6, 2.6]
def xl(px):
    return 1 + (px-180.5)/115.84
axu = add_ax(115, 1019, 812, 1145.7)
axd = add_ax(115, 1157, 812, 1260)
axu.set_ylim(50, 1000); axd.set_ylim(-0.84, 50)
for a in (axu, axd):
    a.set_xlim(xl(115), xl(812)); a.patch.set_alpha(0)
    for n in ['top', 'right', 'bottom']:
        a.spines[n].set_visible(False)
    a.spines['left'].set_color(BLUE); a.spines['left'].set_linewidth(1.2)
    a.set_xticks([])
    a.tick_params(axis='y', labelsize=8.5, length=3, width=1, color=BLUE, labelcolor=BLUE, pad=1)
axu.set_yticks([200, 400, 600, 800, 1000])
axd.set_yticks([10, 20, 30, 40, 50])
axu.scatter(conc_high_x, conc_high_y, s=5, color=BLUE, lw=0, clip_on=False, zorder=3)
axd.scatter(conc_low_x, conc_low_y, s=5, color=BLUE, lw=0, clip_on=False, zorder=3)
for i, n in enumerate(below_limit_n):
    if n:
        axd.scatter(i+1+(np.arange(n)-(n-1)/2)*0.039, np.zeros(n), s=6, facecolors='none', edgecolors='#7F8FD0', lw=0.5, clip_on=False, zorder=3)
dash = (0, (2.6, 1.1))
axu.plot([0.85, 1.15], [conc_means_hi[0]]*2, color='black', lw=1.4, ls=dash)
for i, m in enumerate(conc_means_lo):
    axd.plot([i+2-.15, i+2+.15], [m, m], color='black', lw=1.4, ls=dash, clip_on=False, zorder=4)
ov.plot([115, 119], [1145.7, 1145.7], color=BLUE, lw=1.2)
ov.plot([115, 119], [1157, 1157], color=BLUE, lw=1.2)
T(109, 1256.7, 'Detection limit', size=9.9, ha='right', weight='bold', color=BLUE)
T(54.5, 1128, 'Concentration (pg/ml)', size=13.4, ha='center', rotation=90, color=BLUE)
T(432.5, 878, 'CXCL8 concentration in CSF supernatant', size=16.3, ha='center')

tcc_seg1_x = [2.01, 1.97, 2.05, 2.01, 1.98, 2.03,
              2.95, 3.0, 3.03, 2.91, 2.96, 3.01, 3.06, 3.11, 2.92, 2.99, 3.05, 3.09, 2.94, 3.0, 3.08,
              4.9, 4.95, 5.0, 5.02, 5.07, 5.1, 5.0, 5.0, 5.01, 4.99,
              6.0, 5.96, 6.03, 6.09, 5.92, 5.99, 6.03, 6.09, 5.96, 5.98]
tcc_seg1_y = [17.5, 22.9, 22.9, 30.8, 36.6, 40.4,
              0.2, 0.1, 0.2, 3.7, 3.7, 3.7, 3.7, 3.7, 7.4, 7.8, 7.4, 7, 11, 12, 11,
              24, 22, 19, 19, 24, 24, 26, 34.6, 38.3, 41.7,
              0.2, 3.3, 2.5, 4.6, 6.3, 6.7, 8.8, 10.8, 12, 10.4]
tcc_seg2_x = [1.01, 2.01, 2.01, 2.01, 3.99, 4.03, 4.01, 4.01, 4.01, 4.01, 4.97, 5.03]
tcc_seg2_y = [130, 52.6, 87.6, 161.4, 56.4, 74, 80, 104, 146, 187.7, 126.5, 126.5]
tcc_seg3_x = [1.01, 1.01, 1.01, 1.01, 1.01, 4.01]
tcc_seg3_y = [758, 1366, 2259, 2867, 10316, 285]
tcc_mean_seg1 = {3: 5.0, 5: 44.0, 6: 5.8}
tcc_mean_seg2 = {2: 50.5, 4: 124.0}
tcc_mean_seg3 = {1: 2946.0}
seg_defs = [(1347.7, 1387.7, (50, 0), [0, 10, 20, 30, 40, 50], tcc_seg1_x, tcc_seg1_y, tcc_mean_seg1, 6.5),
            (1399.3, 1439.3, (200, 50), [50, 100, 150, 200], tcc_seg2_x, tcc_seg2_y, tcc_mean_seg2, 7),
            (1451, 1587.7, (11055, 260), [5000, 10000], tcc_seg3_x, tcc_seg3_y, tcc_mean_seg3, 7.2)]
for y0, y1, yl, yt, xs, ys, means, fs in seg_defs:
    a = add_ax(119.6, y0, 812, y1)
    a.set_xlim(xl(119.6), xl(812)); a.set_ylim(*yl); a.patch.set_alpha(0)
    for n in ['top', 'right', 'bottom']:
        a.spines[n].set_visible(False)
    a.spines['left'].set_color(GREEN); a.spines['left'].set_linewidth(1.0)
    a.set_xticks([]); a.set_yticks(yt)
    a.tick_params(axis='y', labelsize=fs, labelrotation=180, length=3, width=0.9, color=GREEN, labelcolor=GREEN, pad=1)
    a.scatter(xs, ys, s=6.5, marker='s', color=GREEN, lw=0, clip_on=False, zorder=3)
    for i, m in means.items():
        a.plot([i-.115, i+.115], [m, m], color='black', lw=1.4, ls=dash, clip_on=False, zorder=4)
    ov.plot([119.6, 116.5], [y0, y0], color=GREEN, lw=0.9)
T(60, 1464, 'Number (× 10⁶ / ml)', size=12.9, ha='center', rotation=90, color=GREEN)

BRK = '#555555'
def brk(pts):
    xs, ys = zip(*pts)
    ov.plot(xs, ys, color=BRK, lw=0.9, solid_joinstyle='miter')
top_br = [(180.5, 942.7, 933.3, 759.7, 1040.7), (180.5, 959, 949.3, 645, 1040.7), (180.5, 976.7, 966.7, 527, 1040.7),
          (180.5, 993, 982.7, 412, 1040.7), (180.5, 1010, 998, 296.5, 1040.7), (296.5, 1086, 1076.7, 645, 1131.7),
          (297.5, 1116.7, 1107, 527.8, 1118), (296.5, 1146, 1137.3, 412, 1161),
          (296.5, 1507.7, 1517.7, 528, 1507.7), (296.5, 1530, 1540.3, 644.2, 1530), (181.6, 1611, 1618.7, 297.5, 1579.3),
          (181.6, 1635.7, 1644.3, 527.5, 1578.3), (181.6, 1659, 1668.3, 644.2, 1578.3)]
for a, b, c, d, e in top_br:
    brk([(a, b), (a, c), (d, c), (d, e)])
for sx, sy in [(448, 929), (400, 945), (339, 962), (287.5, 977), (231, 993), (474, 1070), (358, 1131.7),
               (407.6, 1526.7), (230.8, 1626.7), (350, 1653.7), (392.3, 1680.7)]:
    T(sx, sy+1.5, '*', size=9, ha='center')
T(403.4, 1100, 'NS', size=7.5, ha='center')
T(463.7, 1548, 'NS', size=7.5, ha='center')
for i, cx in enumerate(cat_px):
    ov.plot([cx, cx], [1268, 1274], color='#333333', lw=0.8)
    ov.plot([cx, cx], [1326, 1331], color='#333333', lw=0.8)

def oval(cx, cy, w, h, edge, centre=None):
    e = Ellipse((cx, cy), w, h, fc=edge, ec='none', zorder=2)
    ov.add_patch(e)
    if centre is not None:
        yy, xx = np.mgrid[-1:1:80j, -1:1:80j]
        r = np.clip(np.hypot(xx, yy), 0, 1)[..., None]
        r = r**1.6
        c0 = np.array(matplotlib.colors.to_rgb(centre)); c1 = np.array(matplotlib.colors.to_rgb(edge))
        im = ov.imshow(c0*(1-r)+c1*r, extent=[cx-w/2, cx+w/2, cy+h/2, cy-h/2], aspect='auto', zorder=3, interpolation='bilinear')
        im.set_clip_path(e)
        ov.set_xlim(0, W); ov.set_ylim(H, 0)

oval_x = [179.5, 297.5, 413, 530.4, 643, 761]
oval_style = [('#E05E25', None), ('#2A9BD8', None), ('#8DC23F', None), ('#2A9BD8', '#D4E6F6'), ('#2A9BD8', '#D4E6F6'), ('#8DC23F', '#E6F1D2')]
for cx, (ed, ce), g in zip(oval_x, oval_style, groups):
    oval(cx, 1300.7, 87, 53, ed, ce)
    T(cx-1, 1298, g, size=14.5, ha='center', zorder=5)
ov.plot([130, 811], [1274.7, 1274.7], color='#111111', lw=1.5, zorder=4)
ov.plot([130, 811], [1326.3, 1326.3], color='#111111', lw=1.5, zorder=4)
T(74, 1300.7, 'CSF group', size=8.8, ha='center')

# right legends
T(880, 943, 'CSF sample', size=14.4)
ov.scatter([906.7], [983.7], s=(15*.72)**2, color=BLUE, lw=0)
T(920, 982, 'True value', size=13)
ov.scatter([906.7], [1006.7], s=(15*.72)**2, facecolors='white', edgecolors=BLUE, lw=0.8)
T(920, 1005, 'Lower under dection limit', size=13)
ov.plot([1134.3, 1134.3], [977, 998], color='black', lw=2)
T(1152.7, 987, 'CXCL8 concentration', size=13.8)
ov.plot([888, 920.7], [1062, 1062], color='black', lw=1.6, ls=(0, (2.3, 1)))
T(940.7, 1062, 'Mean value', size=13)
ov.add_patch(Rectangle((899, 1110.7), 15.7, 15.3, fc='#2BB24C', ec='none'))
T(925, 1117, 'Corresponding TCCs', size=13.2)
T(901, 1231.6, 'BM stage', size=15)
leg_names = ['Initial onset', 'Non-refractory remission', 'Recovery after non-refractory remission', 'Refractory remission', 'Recovery after refractory remission']
for (ed, ce), nm, yy in zip([oval_style[0], oval_style[1], oval_style[2], oval_style[3], oval_style[5]], leg_names, [1267.4, 1300.5, 1333.5, 1366.6, 1399.6]):
    oval(941.3, yy, 39, 23.4, ed, ce)
    T(977.3, yy, nm, size=12.3)

# ---------- Panel E ----------
case_groups = ['S3/S4/S5', 'S6/S7/S8/S9']
above_limit = [13, 6]
below_limit = [10, 20]
axe = add_ax(91, 1777.7, 338.4, 1942.3)
axe.set_xlim(0.53, 2.469); axe.set_ylim(0, 25)
for n in ['top', 'right']:
    axe.spines[n].set_visible(False)
axe.bar(np.array([1, 2])-.175, above_limit, width=.294, color='#F58220')
axe.bar(np.array([1, 2])+.175, below_limit, width=.294, color='#4A97D3')
axe.set_yticks([0, 5, 10, 15, 20, 25]); axe.set_xticks([1, 2]); axe.set_xticklabels(case_groups)
axe.tick_params(axis='y', labelsize=9.5, length=3, width=0.8, pad=1)
axe.tick_params(axis='x', labelsize=9.8, length=2, width=0.8, pad=9, labelcolor='#222222')
T(194.6, 1745, 'CSF samples', size=9.4, ha='center')
T(63.5, 1856.7, 'Number', size=9.2, ha='center', rotation=90)
GR = '#999999'
ov.plot([151, 151, 278.6, 278.6], [1796.3, 1777.3, 1777.3, 1796.3], color=GR, lw=0.8)
ov.plot([129.5, 173.2], [1796.3, 1796.3], color=GR, lw=0.8)
ov.plot([255.8, 300.4], [1796.3, 1796.3], color=GR, lw=0.8)
T(212.5, 1772.3, 'Δ', size=5, ha='center')
ov.plot([150.4, 277.7], [1978.3, 1978.3], color=GR, lw=0.8)
T(215.6, 1990, 'BM stages', size=9.4, ha='center')
T(380, 1770.7, 'Cases', size=9.5)
ov.add_patch(Rectangle((396, 1782), 14.7, 11.7, fc='#F58220', ec='none'))
ov.add_patch(Rectangle((396, 1805), 14.7, 11.7, fc='#4A97D3', ec='none'))
T(419.6, 1787.3, 'CXCL8 levels above the lower limit of dection', size=7.95)
T(419.6, 1810.3, 'CXCL8 levels below the lower limit of dection', size=7.95)

fig.savefig('out.png', dpi=100)
